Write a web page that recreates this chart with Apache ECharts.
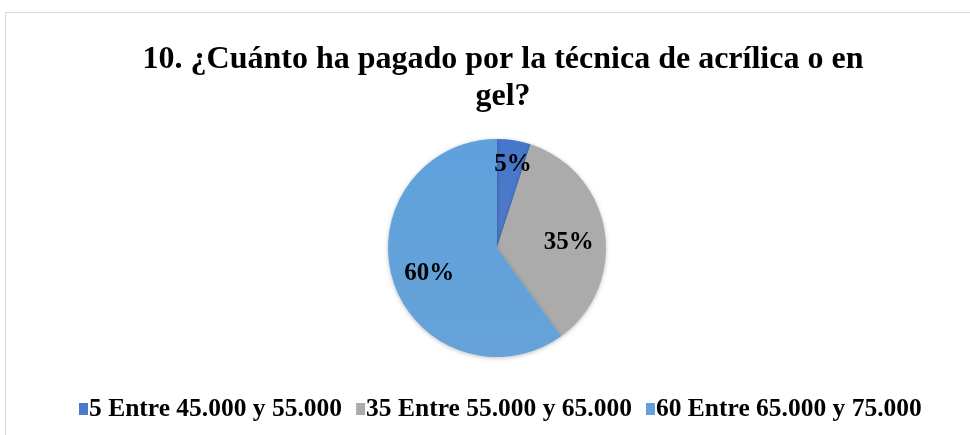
<!DOCTYPE html>
<html>
<head>
<meta charset="utf-8">
<script src="https://cdn.jsdelivr.net/npm/echarts@6/dist/echarts.min.js"></script>
<style>
  html, body { margin: 0; padding: 0; background: #fff; }
  #chart { width: 970px; height: 435px; }
</style>
</head>
<body>
<div id="chart"></div>
<script>
const categories = ['5 Entre 45.000 y 55.000', '35 Entre 55.000 y 65.000', '60 Entre 65.000 y 75.000'];
const values = [5, 35, 60];
const colors = ['#4472C4', '#A5A5A5', '#5B9BD5'];
// label nudges so the percentages sit where the original has them
const labelOffsets = [[7, -27], [15, 4], [-13, 8]];

const chart = echarts.init(document.getElementById('chart'));
const serif = '"Liberation Serif", "Times New Roman", serif';

chart.setOption({
  animation: false,
  graphic: [{
    type: 'rect',
    shape: { x: 5.5, y: 12.5, width: 980, height: 440 },
    style: { fill: 'none', stroke: '#d9d9d9', lineWidth: 1 },
    silent: true
  }],
  title: {
    text: '10. ¿Cuánto ha pagado por la técnica de acrílica o en\ngel?',
    left: 498,
    textAlign: 'center',
    top: 36,
    textStyle: {
      fontFamily: serif,
      fontWeight: 'bold',
      fontSize: 32,
      lineHeight: 37,
      color: '#000'
    }
  },
  legend: {
    bottom: 8,
    left: 74,
    itemWidth: 9,
    itemHeight: 12,
    itemGap: 14,
    icon: 'rect',
    textStyle: {
      fontFamily: serif,
      fontWeight: 'bold',
      fontSize: 25.5,
      color: '#000',
      padding: [0, 0, 0, -4]
    },
    data: categories
  },
  series: [{
    type: 'pie',
    center: [497, 248],
    radius: 109,
    startAngle: 90,
    clockwise: true,
    label: {
      show: true,
      position: 'inside',
      formatter: p => p.value + '%',
      fontFamily: serif,
      fontWeight: 'bold',
      fontSize: 25,
      color: '#000'
    },
    labelLine: { show: false },
    itemStyle: { borderWidth: 0, shadowBlur: 4, shadowColor: 'rgba(0,0,0,0.25)', shadowOffsetY: 1 },
    data: categories.map((c, i) => ({
      name: c,
      value: values[i],
      label: { offset: labelOffsets[i] },
      itemStyle: {
        color: new echarts.graphic.LinearGradient(0, 0, 0, 1, [
          { offset: 0, color: echarts.color.lift(colors[i], -0.04) },
          { offset: 1, color: echarts.color.lift(colors[i], 0.07) }
        ])
      }
    }))
  }],
  color: colors
});
</script>
</body>
</html>
